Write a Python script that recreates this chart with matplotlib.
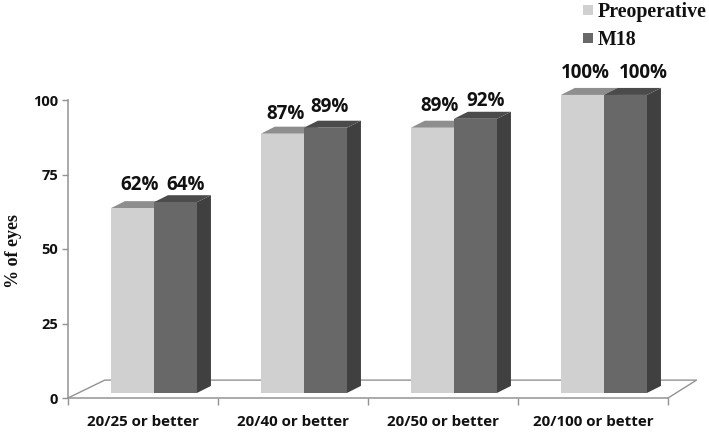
import matplotlib
matplotlib.use("Agg")
import matplotlib.pyplot as plt
from matplotlib.patches import Rectangle

categories = ["20/25 or better", "20/40 or better", "20/50 or better", "20/100 or better"]
preop = [62, 87, 89, 100]
m18 = [64, 89, 92, 100]
yticks = [0, 25, 50, 75, 100]

W, H = 709, 432
LEFT, RIGHT, TOP, BOTTOM = 68, 668, 100, 398

# fake 3d settings, in axis units
bar_w = 0.287
center = 0.573
base = 1.7
dx = 0.093
dy = 2.35

# label nudges in pixels, (x, y) from the middle of the bar top
nudge_pre = [(7.5, 23), (3.5, 20), (7.5, 22), (2.5, 22)]
nudge_m18 = [(10, 17), (4.5, 21), (10, 18), (17.5, 22)]

LABEL_FONT = "Open Sans"
SERIF = "Liberation Serif"
GREY = "#939393"

fig = plt.figure(figsize=(W / 100, H / 100), dpi=100)
ax = fig.add_axes([LEFT / W, 1 - BOTTOM / H, (RIGHT - LEFT) / W, (BOTTOM - TOP) / H])
ax.set_xlim(0, len(categories))
ax.set_ylim(0, 100)


def bar3d(x, v, front, top, side):
    y0, y1 = base, base + v
    ax.fill([x + bar_w, x + bar_w + dx, x + bar_w + dx, x + bar_w],
            [y0, y0 + dy, y1 + dy, y1], color=side, lw=0, clip_on=False, zorder=3)
    ax.fill([x, x + dx, x + bar_w + dx, x + bar_w],
            [y1, y1 + dy, y1 + dy, y1], color=top, lw=0, clip_on=False, zorder=3)
    ax.add_patch(Rectangle((x, y0), bar_w, v, fc=front, lw=0, clip_on=False, zorder=3))


def pct_label(text, x, y, nudge):
    ax.annotate(text, (x, y), xytext=(nudge[0] * 0.72, nudge[1] * 0.72), textcoords="offset points",
                ha="center", va="center", fontsize=13.5, fontweight="bold", family=LABEL_FONT,
                color="#111111", zorder=5, annotation_clip=False)


# floor
ax.plot([0, 0.245, 4.19, 4], [0, 6, 6, 0], color=GREY, lw=1.0, clip_on=False, zorder=1)

for i in range(len(categories)):
    c = i + center
    bar3d(c - bar_w, preop[i], "#d0d0d0", "#8e8e8e", "#8e8e8e")
    bar3d(c, m18[i], "#686868", "#4b4b4b", "#404040")
    pct_label(f"{preop[i]}%", c - bar_w / 2, preop[i] + base, nudge_pre[i])
    pct_label(f"{m18[i]}%", c + bar_w / 2, m18[i] + base, nudge_m18[i])

for s in ["top", "right"]:
    ax.spines[s].set_visible(False)
for s in ["left", "bottom"]:
    ax.spines[s].set_color(GREY)
    ax.spines[s].set_linewidth(1.1)

ax.set_yticks(yticks)
ax.set_yticklabels([str(t) for t in yticks], fontsize=10.5, fontweight="bold", family=LABEL_FONT, color="#111111")
ax.set_xticks(range(len(categories) + 1))
ax.set_xticklabels([""] * (len(categories) + 1))
ax.tick_params(axis="y", length=4, width=1.0, color=GREY, pad=3)
ax.tick_params(axis="x", length=5, width=1.0, color=GREY)

for i, name in enumerate(categories):
    ax.text(i + 0.5, -8.2, name, ha="center", va="center", fontsize=10.9, fontweight="bold",
            family=LABEL_FONT, color="#111111")

fig.text(13 / W, 1 - 251 / H, "% of eyes", rotation=90, ha="center", va="center",
         fontsize=13, fontweight="bold", family=SERIF, color="#111111")

# legend
fig.patches.append(Rectangle((583 / W, 1 - 15 / H), 10 / W, 10 / H, transform=fig.transFigure, fc="#d0d0d0", lw=0))
fig.patches.append(Rectangle((583 / W, 1 - 43 / H), 10 / W, 10 / H, transform=fig.transFigure, fc="#686868", lw=0))
fig.text(598 / W, 1 - 12 / H, "Preoperative", ha="left", va="center", fontsize=14.3, fontweight="bold",
         family=SERIF, color="#111111")
fig.text(598 / W, 1 - 40 / H, "M18", ha="left", va="center", fontsize=14.3, fontweight="bold",
         family=SERIF, color="#111111")

fig.savefig("out.png", dpi=100)
